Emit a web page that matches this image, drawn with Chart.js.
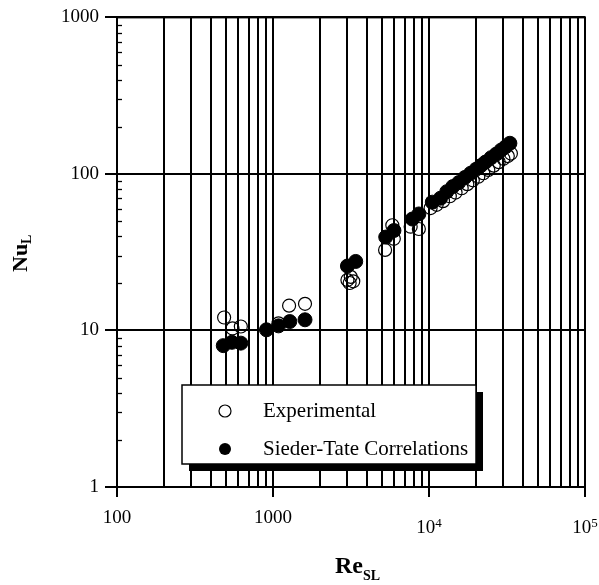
<!DOCTYPE html>
<html>
<head>
<meta charset="utf-8">
<script src="https://cdn.jsdelivr.net/npm/chart.js@4.4.0/dist/chart.umd.min.js"></script>
<style>
    html, body { margin: 0; padding: 0; background: #fff; }
    #wrap { width: 599px; height: 585px; }
</style>
</head>
<body>
<div id="wrap"><canvas id="myChart" width="599" height="585"></canvas></div>
<script>
// Experimental points (open circles)
const expRe = [486, 550, 622, 1085, 1268, 1604, 3000, 3100, 3270, 3150, 5230, 5820, 5950, 7630, 8610,
    10240, 11200, 12300, 13600, 14800, 16200, 17600, 19100, 20700, 22300, 24000, 26000, 28000, 30000, 32000, 33500];
const expNu = [12.1, 10.3, 10.6, 11.1, 14.4, 14.8, 21.0, 20.1, 20.6, 22.0, 32.7, 47.0, 38.5, 46.0, 44.5,
    60.5, 63.5, 67, 72, 76, 81, 86, 91, 96, 101, 106, 113, 119, 125, 130, 135];

// Sieder-Tate correlation (filled circles)
const stRe = [480, 545, 622, 908, 1085, 1281, 1604, 3000, 3390, 5280, 5960, 7820, 8610,
    10500, 11860, 13000, 14200, 15500, 17000, 18500, 20000, 21500, 23000, 25000, 27000, 29000, 31000, 33000];
const stNu = [8.0, 8.4, 8.3, 10.1, 10.7, 11.4, 11.7, 25.8, 27.6, 39.5, 43.5, 51.5, 55.5,
    66, 70, 77, 83, 88, 95, 101, 107, 113, 119, 127, 134, 142, 149, 157];

const seriesNames = ["Experimental", "Sieder-Tate Correlations"];
const xTickLabels = { 100: "100", 1000: "1000" };
const xPowerLabels = [[10000, "4"], [100000, "5"]];
const yTickLabels = { 1: "1", 10: "10", 100: "100", 1000: "1000" };

const serif = "'Liberation Serif', 'Times New Roman', serif";

// 1..9 x 10^n ticks between min and max
function logTicks(min, max) {
    const ticks = [];
    for (let p = min; p < max; p *= 10) {
        for (let s = 1; s < 10; s++) {
            ticks.push({ value: s * p, major: s === 1 });
        }
    }
    ticks.push({ value: max, major: true });
    return ticks;
}

const extras = {
    id: "extras",
    afterDraw(chart) {
        const ctx = chart.ctx;
        const a = chart.chartArea;
        const xs = chart.scales.x;
        const ys = chart.scales.y;
        ctx.save();

        // frame
        ctx.strokeStyle = "#000";
        ctx.lineWidth = 2;
        ctx.strokeRect(a.left, a.top, a.right - a.left, a.bottom - a.top);

        // inner minor ticks on the y axis
        ctx.lineWidth = 1.3;
        ys.ticks.forEach(t => {
            if (t.major) return;
            const y = Math.round(ys.getPixelForValue(t.value)) + 0.5;
            ctx.beginPath();
            ctx.moveTo(a.left, y);
            ctx.lineTo(a.left + 5, y);
            ctx.stroke();
        });

        // 10^n labels
        ctx.fillStyle = "#000";
        ctx.textBaseline = "alphabetic";
        xPowerLabels.forEach(([v, p]) => {
            ctx.font = "19px " + serif;
            const w1 = ctx.measureText("10").width;
            ctx.font = "13px " + serif;
            const w2 = ctx.measureText(p).width;
            const x0 = xs.getPixelForValue(v) - (w1 + w2) / 2;
            ctx.font = "19px " + serif;
            ctx.textAlign = "left";
            ctx.fillText("10", x0, a.bottom + 46);
            ctx.font = "13px " + serif;
            ctx.fillText(p, x0 + w1, a.bottom + 40);
        });

        // legend box with shadow
        const lx = 182, ly = 385, lw = 294, lh = 79;
        ctx.fillStyle = "#000";
        ctx.fillRect(lx + 7, ly + 7, lw, lh);
        ctx.fillStyle = "#fff";
        ctx.fillRect(lx, ly, lw, lh);
        ctx.strokeStyle = "#000";
        ctx.lineWidth = 1.5;
        ctx.strokeRect(lx, ly, lw, lh);
        chart.data.datasets.forEach((ds, i) => {
            const cy = ly + 26 + i * 38;
            ctx.beginPath();
            ctx.arc(lx + 43, cy, 6, 0, Math.PI * 2);
            if (ds.backgroundColor !== "rgba(0,0,0,0)") {
                ctx.fillStyle = "#000";
                ctx.fill();
            } else {
                ctx.lineWidth = 1.2;
                ctx.stroke();
            }
            ctx.fillStyle = "#000";
            ctx.font = "21px " + serif;
            ctx.textAlign = "left";
            ctx.textBaseline = "middle";
            ctx.fillText(ds.label, lx + 81, cy);
        });

        // x title: Re_SL
        ctx.textBaseline = "alphabetic";
        ctx.textAlign = "left";
        ctx.font = "bold 24px " + serif;
        ctx.fillText("Re", 335, 573);
        const reW = ctx.measureText("Re").width;
        ctx.font = "bold 14px " + serif;
        ctx.fillText("SL", 335 + reW, 580);

        // y title: Nu_L
        ctx.translate(27, 272);
        ctx.rotate(-Math.PI / 2);
        ctx.font = "bold 22px " + serif;
        ctx.fillText("Nu", 0, 0);
        const nuW = ctx.measureText("Nu").width;
        ctx.font = "bold 14px " + serif;
        ctx.fillText("L", nuW, 4);

        ctx.restore();
    }
};

const data = {
    datasets: [
        {
            label: seriesNames[0],
            data: expRe.map((x, i) => ({ x: x, y: expNu[i] })),
            backgroundColor: "rgba(0,0,0,0)",
            borderColor: "#000",
            borderWidth: 1.2,
            pointRadius: 6.5,
            order: 1,
        },
        {
            label: seriesNames[1],
            data: stRe.map((x, i) => ({ x: x, y: stNu[i] })),
            backgroundColor: "#000",
            borderColor: "#000",
            borderWidth: 1,
            pointRadius: 7,
            order: 0,
        },
    ],
};

const config = {
    type: "scatter",
    data: data,
    plugins: [extras],
    options: {
        responsive: false,
        animation: false,
        events: [],
        layout: { padding: { top: 17, right: 14, left: 0, bottom: 0 } },
        plugins: { legend: { display: false }, tooltip: { enabled: false } },
        scales: {
            x: {
                type: "logarithmic",
                min: 100,
                max: 100000,
                afterBuildTicks: (s) => { s.ticks = logTicks(100, 100000); },
                afterFit: (s) => { s.height = 98; },
                border: { display: false },
                grid: {
                    color: "#000",
                    lineWidth: 2,
                    tickLength: 10,
                    tickColor: (c) => (c.tick && c.tick.major ? "#000" : "rgba(0,0,0,0)"),
                },
                ticks: {
                    autoSkip: false,
                    maxRotation: 0,
                    padding: 10,
                    color: "#000",
                    font: { family: serif, size: 19 },
                    callback: (v) => xTickLabels[v] || "",
                },
            },
            y: {
                type: "logarithmic",
                min: 1,
                max: 1000,
                afterBuildTicks: (s) => { s.ticks = logTicks(1, 1000); },
                afterFit: (s) => { s.width = 117; },
                border: { display: false },
                grid: {
                    color: (c) => (c.tick && c.tick.major ? "#000" : "rgba(0,0,0,0)"),
                    lineWidth: 2,
                    tickLength: 12,
                    tickColor: (c) => (c.tick && c.tick.major ? "#000" : "rgba(0,0,0,0)"),
                },
                ticks: {
                    autoSkip: false,
                    padding: 6,
                    color: "#000",
                    font: { family: serif, size: 19 },
                    callback: (v) => yTickLabels[v] || "",
                },
            },
        },
    },
};

const myChart = new Chart(document.getElementById("myChart"), config);
</script>
</body>
</html>
